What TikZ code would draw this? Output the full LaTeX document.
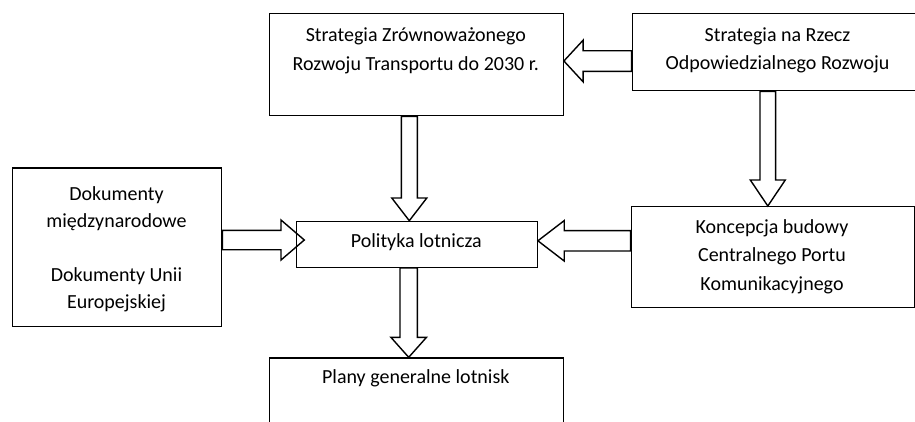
\documentclass[tikz,border=0pt]{standalone}
\usepackage{fontspec}
\setmainfont{Carlito}
\usetikzlibrary{calc}
\tikzset{
  box/.style={draw, line width=1.4pt, inner sep=0pt, anchor=north west},
  txt/.style={font=\fontsize{20}{28.5}\selectfont, align=center, inner sep=0pt},
  barrow/.style={draw, line width=1.4pt, line join=miter}
}
\newcommand\blockarrow[5]{%
  \coordinate (ba-h) at ($(#2)!#5pt!(#1)$);
  \draw[barrow] ($(#1)!#3pt!90:(#2)$) -- ($(ba-h)!#3pt!90:(#2)$) -- ($(ba-h)!#4pt!90:(#2)$) -- (#2)
    -- ($(ba-h)!#4pt!-90:(#2)$) -- ($(ba-h)!#3pt!-90:(#2)$) -- ($(#1)!#3pt!-90:(#2)$) -- cycle;}
\begin{document}
\begin{tikzpicture}[x=1pt,y=-1pt]
\useasboundingbox (0,0) rectangle (915,421);
% boxes
\node[box, minimum width=293.5pt, minimum height=102pt] (A) at (269,13) {};
\node[box, minimum width=292pt, minimum height=77pt] (B) at (631.5,13) {};
\node[box, minimum width=209.3pt, minimum height=158.4pt] (C) at (11.7,167.3) {};
\node[box, minimum width=240.8pt, minimum height=45.8pt] (D) at (295.7,220.7) {};
\node[box, minimum width=283.5pt, minimum height=100.7pt] (E) at (630.5,206) {};
\node[box, minimum width=293.5pt, minimum height=80pt] (F) at (269,357.3) {};
% texts
\node[txt] (At) at (415.8,51) {Strategia Zrównoważonego\\Rozwoju Transportu do 2030 r.};
\node[txt] (Bt) at (777.5,50.5) {Strategia na Rzecz\\Odpowiedzialnego Rozwoju};
\node[txt, font=\fontsize{20}{27}\selectfont] (Ct) at (116.5,249.5) {Dokumenty\\międzynarodowe\\[27pt]Dokumenty Unii\\Europejskiej};
\node[txt] (Dt) at (416.3,241.7) {Polityka lotnicza};
\node[txt] (Et) at (772,256.3) {Koncepcja budowy\\Centralnego Portu\\Komunikacyjnego};
\node[txt] (Ft) at (415.8,378.3) {Plany generalne lotnisk};
% arrow end points
\coordinate (t1) at (A.east |- 0,61);
\coordinate (s1) at (B.west |- t1);
\coordinate (t2) at (D.north -| 409.3,0);
\coordinate (s2) at (A.south -| t2);
\coordinate (t3) at (304.3,240);
\coordinate (s3) at (C.east |- t3);
\coordinate (t4) at (D.east |- 0,240.8);
\coordinate (s4) at (E.west |- t4);
\coordinate (t5) at (E.north -| 767.8,0);
\coordinate (s5) at (B.south -| t5);
\coordinate (t6) at (F.north -| 408.7,0);
\coordinate (s6) at (D.south -| t6);
% block arrows
\blockarrow{s1}{t1}{10.3}{20.8}{19.2}
\blockarrow{s2}{t2}{8}{17.5}{22.7}
\blockarrow{s3}{t3}{9.7}{20}{23.3}
\blockarrow{s4}{t4}{10.2}{20.2}{26.3}
\blockarrow{s5}{t5}{7.85}{17.5}{26}
\blockarrow{s6}{t6}{8.7}{17.8}{20}
\end{tikzpicture}
\end{document}
